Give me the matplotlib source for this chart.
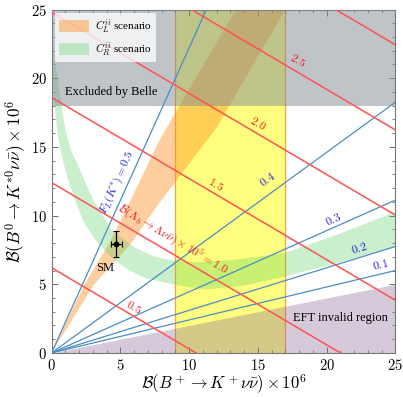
import numpy as np
import matplotlib
matplotlib.use("Agg")
import matplotlib.pyplot as plt
from matplotlib.ticker import MultipleLocator, FuncFormatter

plt.rcParams['font.family'] = 'serif'
plt.rcParams['font.serif'] = ['Liberation Serif', 'DejaVu Serif']
plt.rcParams['mathtext.fontset'] = 'cm'

# ---------------- data ----------------
x_limits = [0, 25]
y_limits = [0, 25]

# F_L(K*) iso-lines through the origin (slope in B(K*)/B(K))
fl_values = [0.5, 0.4, 0.3, 0.2, 0.1]
fl_slopes = [2.22, 0.73, 0.445, 0.31, 0.24]
fl_label_pos = [(4.8, 12.45), (15.7, 12.6), (20.5, 9.7), (22.4, 7.55), (23.9, 6.35)]

# B(Lambda_b -> Lambda nu nu) x 10^5 iso-lines: value = x/ax_int + y/ay_int
lam_values = [0.5, 1.0, 1.5, 2.0, 2.5, 3.0]
lam_x_intercept_unit = 21.0
lam_y_intercept_unit = 12.4
lam_label_pos = {0.5: (5.95, 3.3), 1.0: (8.8, 8.25), 1.5: (11.9, 12.25),
                 2.0: (15.0, 16.65), 2.5: (17.9, 21.25)}

# Belle exclusion (y above) and measured B+ band (yellow)
belle_y_min = 18.0
bplus_band = [9.0, 17.0]

# EFT invalid region: below y = slope * x
eft_slope = 0.2

# SM point
sm_x, sm_y = 4.72, 7.9
sm_xerr, sm_yerr = 0.37, 0.95

# C_L scenario band (orange): left and right edges
cl_left_x = [0.0, 2.4, 4.2, 5.5, 7.85, 13.4]
cl_left_y = [0.0, 5.0, 8.0, 10.6, 15.5, 25.0]
cl_right_x = [0.0, 3.1, 5.8, 7.6, 12.0, 17.0]
cl_right_y = [0.0, 5.0, 8.0, 10.6, 16.4, 25.0]

# C_R scenario band (green): inner (towards origin) and outer edges
cr_inner_x = [0.0, 0.17, 0.4, 0.6, 1.0, 1.6, 2.3, 3.2, 4.3, 5.5, 6.8, 9.0, 11.2, 14.0, 16.9, 20.7, 25.0]
cr_inner_y = [20.0, 18.6, 16.2, 15.0, 13.3, 11.4, 9.6, 8.2, 7.0, 6.1, 5.45, 4.95, 4.62, 4.9, 5.55, 6.52, 7.73]
cr_outer_x = [0.0, 0.65, 1.0, 1.4, 2.2, 3.0, 4.35, 6.0, 7.5, 8.6, 10.5, 13.0, 16.9, 20.7, 25.0]
cr_outer_y = [22.7, 18.6, 16.2, 14.8, 13.0, 11.2, 8.94, 7.7, 7.0, 6.75, 6.6, 6.75, 7.25, 8.58, 10.27]

# ---------------- figure ----------------
fig = plt.figure(figsize=(4.03, 3.97), dpi=100)
ax = fig.add_axes([0.128, 0.111, 0.853, 0.865])
ax.set_xlim(*x_limits)
ax.set_ylim(*y_limits)

c_yellow = (1.0, 1.0, 0.0, 0.5)
c_orange = (1.0, 0.55, 0.1, 0.42)
c_green = (0.3, 0.8, 0.35, 0.3)
c_purple = (0.55, 0.42, 0.6, 0.36)
c_gray = (0.50, 0.54, 0.58, 0.5)
c_red = '#ff5252'
c_blue_line = '#4a8ec4'
c_blue_txt = '#2222dd'
c_red_txt = '#f01818'

# yellow band
ax.axvspan(bplus_band[0], bplus_band[1], color=c_yellow, lw=0, zorder=1)
for xb in bplus_band:
    ax.axvline(xb, color='#ff9f3a', lw=0.9, zorder=1.1)

# orange band
ox = np.concatenate([cl_left_x, np.array(cl_right_x)[::-1]])
oy = np.concatenate([cl_left_y, np.array(cl_right_y)[::-1]])
ax.fill(ox, oy, color=c_orange, lw=0, zorder=2, label=r'$C_L^{ii}$ scenario')

# green band
gx = np.concatenate([cr_inner_x, np.array(cr_outer_x)[::-1]])
gy = np.concatenate([cr_inner_y, np.array(cr_outer_y)[::-1]])
ax.fill(gx, gy, color=c_green, lw=0, zorder=2, label=r'$C_R^{ii}$ scenario')

# EFT invalid region
ex = np.array(x_limits, dtype=float)
ax.fill_between(ex, 0, eft_slope * ex, color=c_purple, lw=0, zorder=2.5)

# Belle exclusion
ax.axhspan(belle_y_min, y_limits[1], color=c_gray, lw=0, zorder=3)

# F_L lines
for v, s, (tx, ty) in zip(fl_values, fl_slopes, fl_label_pos):
    ax.plot(ex, s * ex, color=c_blue_line, lw=0.9, zorder=4)
    ang = np.degrees(np.arctan(s))
    txt = r'$F_L(K^{*}) = 0.5$' if v == 0.5 else r'$%.1f$' % v
    ax.text(tx, ty, txt, color=c_blue_txt, fontsize=8.5, rotation=ang,
            ha='center', va='center', rotation_mode='anchor', zorder=6)

# Lambda_b lines
for v in lam_values:
    yint = v * lam_y_intercept_unit
    ys = yint - (lam_y_intercept_unit / lam_x_intercept_unit) * ex
    ax.plot(ex, ys, color=c_red, lw=1.1, zorder=4)
ang_r = np.degrees(np.arctan(-lam_y_intercept_unit / lam_x_intercept_unit))
for v, (tx, ty) in lam_label_pos.items():
    if v == 1.0:
        txt = r'$\mathcal{B}(\Lambda_b \to \Lambda\nu\bar{\nu}) \times 10^5 = 1.0$'
    else:
        txt = r'$%.1f$' % v
    ax.text(tx, ty, txt, color=c_red_txt, fontsize=8.5, rotation=ang_r,
            ha='center', va='center', rotation_mode='anchor', zorder=6)

# SM point
ax.errorbar([sm_x], [sm_y], xerr=[sm_xerr], yerr=[sm_yerr], fmt='o', color='black',
            ms=3.2, lw=0.9, capsize=2.5, capthick=0.8, zorder=7)
ax.text(3.9, 6.15, 'SM', fontsize=9, ha='center', va='center', zorder=7)

ax.text(4.35, 19.0, 'Excluded by Belle', fontsize=9, ha='center', va='center', zorder=6)
ax.text(21.0, 2.55, 'EFT invalid region', fontsize=9, ha='center', va='center', zorder=6)

leg = ax.legend(loc='upper left', fontsize=8, frameon=True, fancybox=False,
                handlelength=2.7, handleheight=1.3, borderpad=0.4,
                labelspacing=0.5, handletextpad=0.5, borderaxespad=0.3)
leg.get_frame().set_facecolor('white')
leg.get_frame().set_alpha(0.75)
leg.get_frame().set_edgecolor('none')
leg.set_zorder(8)

ax.xaxis.set_major_locator(MultipleLocator(5))
ax.yaxis.set_major_locator(MultipleLocator(5))
ax.xaxis.set_minor_locator(MultipleLocator(1))
ax.yaxis.set_minor_locator(MultipleLocator(1))
fmt = FuncFormatter(lambda v, p: r'$%d$' % int(round(v)))
ax.xaxis.set_major_formatter(fmt)
ax.yaxis.set_major_formatter(fmt)
ax.tick_params(which='both', direction='in', top=True, right=True, labelsize=10.5,
               color='#555555')
ax.tick_params(which='major', length=4, width=0.6)
ax.tick_params(which='minor', length=2, width=0.5)
for sp in ax.spines.values():
    sp.set_color('#777777')
    sp.set_linewidth(0.8)

ax.set_xlabel(r'$\mathcal{B}(B^+ \to K^+ \nu\bar{\nu}) \times 10^6$', fontsize=12)
ax.xaxis.set_label_coords(0.5, -0.058)
ax.set_ylabel(r'$\mathcal{B}(B^0 \to K^{*0} \nu\bar{\nu}) \times 10^6$', fontsize=12.5, labelpad=2)

fig.savefig('out.png', dpi=100)
